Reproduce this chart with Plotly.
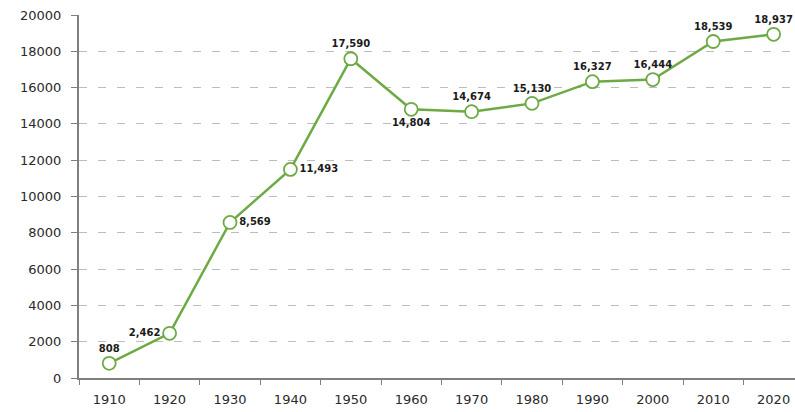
import plotly.graph_objects as go

years = ["1910", "1920", "1930", "1940", "1950", "1960", "1970", "1980", "1990", "2000", "2010", "2020"]
population = [808, 2462, 8569, 11493, 17590, 14804, 14674, 15130, 16327, 16444, 18539, 18937]
label_positions = ["top center", "middle left", "middle right", "middle right", "top center",
                   "bottom center", "top center", "top center", "top center", "top center",
                   "top center", "top center"]
y_ticks = [0, 2000, 4000, 6000, 8000, 10000, 12000, 14000, 16000, 18000, 20000]

green = "#6DAA45"
axis_col = "#7f7f7f"
tick_font = dict(family="DejaVu Sans", size=13, color="#2a2a2a")

fig = go.Figure()
fig.add_trace(go.Scatter(
    x=years, y=population,
    mode="lines+markers+text",
    line=dict(color=green, width=2.5),
    marker=dict(size=13, color="white", line=dict(color=green, width=1.8)),
    text=[f"{v:,}" for v in population],
    textposition=label_positions,
    textfont=dict(family="DejaVu Sans", size=10, color="#1a1a1a", weight="bold"),
    cliponaxis=False,
    hoverinfo="x+y",
))

fig.update_layout(
    width=795, height=412,
    margin=dict(l=79, r=0, t=15, b=34),
    plot_bgcolor="white", paper_bgcolor="white",
    showlegend=False,
    font=tick_font,
)
fig.update_xaxes(
    type="category",
    range=[-0.5, 11.354],
    tickson="boundaries",
    ticks="outside", ticklen=5, tickwidth=1, tickcolor=axis_col,
    showline=True, linecolor=axis_col, linewidth=2,
    showgrid=False,
    tickfont=tick_font,
    ticklabelstandoff=8,
    ticklabeloverflow="allow",
)
fig.update_yaxes(
    range=[0, 20000],
    tickmode="array", tickvals=y_ticks, ticktext=[str(v) for v in y_ticks],
    ticks="outside", ticklen=6, tickwidth=1, tickcolor=axis_col,
    showline=True, linecolor=axis_col, linewidth=2,
    showgrid=True, gridcolor="#bdbdbd", griddash="8px,11px", gridwidth=1.3,
    zeroline=False,
    tickfont=tick_font,
    ticklabelstandoff=7,
    ticklabeloverflow="allow",
)

fig.write_html(
    "out.html",
    config={"displayModeBar": False},
    post_script="document.body.style.margin='0';document.body.style.overflow='hidden';",
)
